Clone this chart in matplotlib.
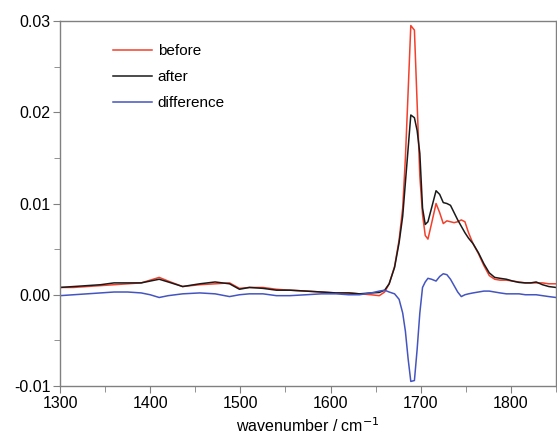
import matplotlib
matplotlib.use("Agg")
import matplotlib.pyplot as plt
from matplotlib.ticker import MultipleLocator, FormatStrFormatter

plt.rcParams['font.family'] = ['Liberation Sans', 'DejaVu Sans']

# wavenumber grid (cm-1)
wavenumber = [1300, 1315, 1330, 1345, 1360, 1375, 1390, 1400, 1410, 1420,
              1436, 1455, 1472, 1488, 1499, 1510, 1525, 1540, 1555, 1573,
              1590, 1606, 1620, 1632, 1645, 1654, 1660, 1665, 1671, 1676,
              1680, 1683, 1686, 1689, 1693, 1696, 1699, 1702, 1705, 1708,
              1712, 1717, 1721, 1725, 1729, 1733, 1737, 1741, 1745, 1749,
              1753, 1758, 1764, 1770, 1776, 1782, 1788, 1795, 1802, 1809,
              1816, 1822, 1828, 1835, 1842, 1850]

before = [0.0008, 0.0008, 0.0009, 0.0010, 0.0011, 0.0012, 0.0013, 0.0016, 0.0019, 0.0015,
          0.0009, 0.0011, 0.0012, 0.0013, 0.0007, 0.0008, 0.0008, 0.0006, 0.0005, 0.0004,
          0.0003, 0.0002, 0.0002, 0.0001, 0.0000, -0.0001, 0.0003, 0.0012, 0.0031, 0.0060,
          0.0095, 0.0150, 0.0222, 0.0295, 0.0290, 0.0210, 0.0130, 0.0088, 0.0065, 0.0061,
          0.0078, 0.0100, 0.0090, 0.0078, 0.0081, 0.0080, 0.0079, 0.0080, 0.0082, 0.0080,
          0.0068, 0.0056, 0.0045, 0.0032, 0.0021, 0.0017, 0.0016, 0.0016, 0.0015, 0.0014,
          0.0013, 0.0013, 0.0013, 0.0013, 0.0012, 0.0012]

after = [0.0008, 0.0009, 0.0010, 0.0011, 0.0013, 0.0013, 0.0013, 0.0015, 0.0017, 0.0014,
         0.0009, 0.0012, 0.0014, 0.0012, 0.0006, 0.0008, 0.0007, 0.0005, 0.0005, 0.0004,
         0.0003, 0.0002, 0.0002, 0.0001, 0.0002, 0.00025, 0.0005, 0.0012, 0.0030, 0.0057,
         0.0086, 0.0123, 0.0160, 0.0197, 0.0194, 0.0180, 0.0155, 0.0095, 0.0077, 0.0080,
         0.0095, 0.0114, 0.0110, 0.0101, 0.0100, 0.0098, 0.0090, 0.0082, 0.0075, 0.0068,
         0.0062, 0.0056, 0.0046, 0.0034, 0.0024, 0.0019, 0.0018, 0.0017, 0.0015, 0.00135,
         0.0013, 0.0013, 0.0014, 0.0011, 0.0009, 0.0008]

difference = [-0.0001, 0.0000, 0.0001, 0.0002, 0.0003, 0.0003, 0.0002, 0.0000, -0.0003, -0.0001,
              0.0001, 0.0002, 0.0001, -0.0002, 0.0000, 0.0001, 0.0001, -0.0001, -0.0001, 0.0000,
              0.0001, 0.0001, 0.0000, 0.0000, 0.0002, 0.0004, 0.0005, 0.0003, 0.0001, -0.0005,
              -0.0020, -0.0040, -0.0070, -0.0095, -0.0094, -0.0060, -0.0020, 0.0008, 0.0014, 0.0018,
              0.0017, 0.0015, 0.0020, 0.0023, 0.0022, 0.0017, 0.0010, 0.0003, -0.0002, 0.0000,
              0.0001, 0.0002, 0.0003, 0.0004, 0.0004, 0.0003, 0.0002, 0.0001, 0.0001, 0.0001,
              0.0000, 0.0000, 0.0000, -0.0001, -0.0002, -0.0003]

fig = plt.figure(figsize=(5.57, 4.42), dpi=100)
ax = fig.add_axes([60 / 557, 1 - 386 / 442, 496 / 557, 365 / 442])

ax.plot(wavenumber, before, color='#f2402c', lw=1.1, label='before')
ax.plot(wavenumber, after, color='#1a1a1a', lw=1.1, label='after')
ax.plot(wavenumber, difference, color='#4455c0', lw=1.1, label='difference')

ax.set_xlim(1300, 1850)
ax.set_ylim(-0.01, 0.03)
ax.xaxis.set_major_locator(MultipleLocator(100))
ax.xaxis.set_minor_locator(MultipleLocator(50))
ax.yaxis.set_major_locator(MultipleLocator(0.01))
ax.yaxis.set_minor_locator(MultipleLocator(0.005))
ax.yaxis.set_major_formatter(FormatStrFormatter('%.2f'))

for s in ax.spines.values():
    s.set_color('#808080')
    s.set_linewidth(1.0)
ax.tick_params(which='major', direction='out', length=5, color='#808080',
               labelsize=11.5, pad=2)
ax.tick_params(which='minor', direction='out', length=4, color='#808080')

ax.set_xlabel('wavenumber / cm$^{-1}$', fontsize=11.5, labelpad=4)

ax.legend(loc='upper left', bbox_to_anchor=(0.08, 0.975), frameon=False,
          fontsize=11, handlelength=2.5, handletextpad=0.4, labelspacing=0.8)

fig.savefig('out.png', dpi=100)
